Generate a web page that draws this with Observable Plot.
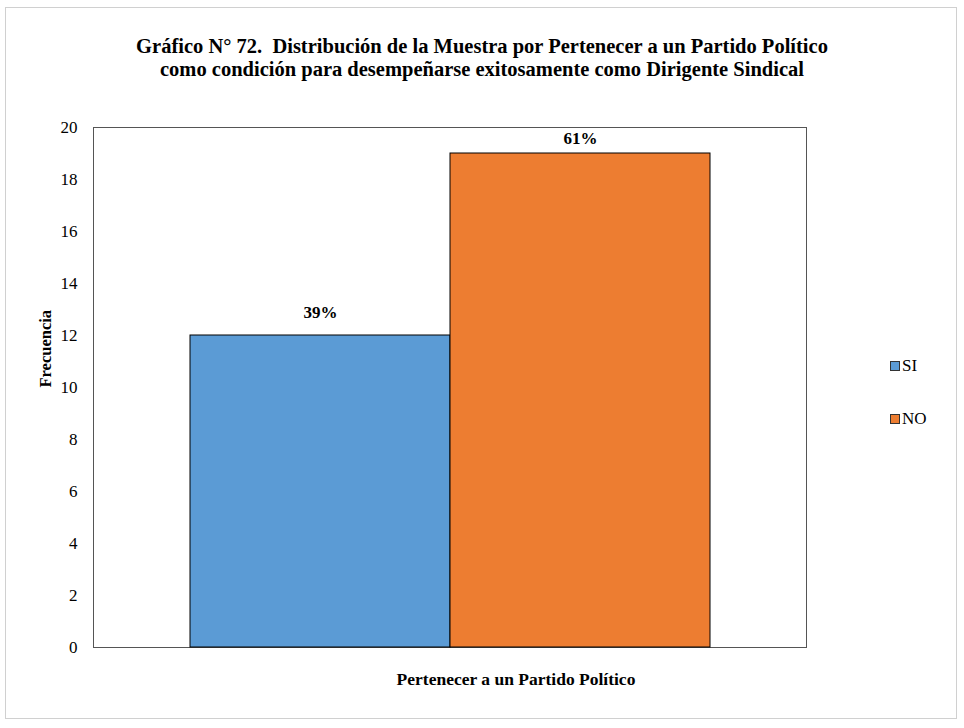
<!DOCTYPE html>
<html>
<head>
<meta charset="utf-8">
<script src="https://cdn.jsdelivr.net/npm/d3@7"></script>
<script src="https://cdn.jsdelivr.net/npm/@observablehq/plot@0.6"></script>
<style>
  html, body { margin: 0; padding: 0; background: #fff; }
  #wrap { position: relative; width: 964px; height: 728px; font-family: "Liberation Serif", "DejaVu Serif", serif; }
  #border { position: absolute; left: 5px; top: 7px; width: 952px; height: 712px; border: 1px solid #d0d0d0; box-sizing: border-box; }
  #title { position: absolute; left: 0; width: 964px; top: 35px; text-align: center; font-weight: bold; font-size: 20.5px; line-height: 23px; color: #000; }
  #chart { position: absolute; left: 0; top: 0; }
  .leg { position: absolute; left: 890px; font-size: 17px; line-height: 20px; color: #000; display: flex; align-items: center; }
  .sw { width: 8px; height: 8px; border: 1px solid #333; margin-right: 2px; }
</style>
</head>
<body>
<div id="wrap">
  <div id="border"></div>
  <div id="chart"></div>
  <div id="title">Gráfico N° 72.&nbsp; Distribución de la Muestra por Pertenecer a un Partido Político<br>como condición para desempeñarse exitosamente como Dirigente Sindical</div>
  <div id="legend"></div>
</div>
<script>
const categories = ["SI", "NO"];
const values = [12, 19];
const percentLabels = ["39%", "61%"];
const colors = ["#5B9BD5", "#ED7D31"];
const yTicks = [0, 2, 4, 6, 8, 10, 12, 14, 16, 18, 20];

const data = categories.map((c, i) => ({cat: c, value: values[i], label: percentLabels[i]}));

const FONT = "'Liberation Serif', 'DejaVu Serif', serif";
const plot = Plot.plot({
  width: 964,
  height: 728,
  marginLeft: 93,
  marginRight: 158,
  marginTop: 127,
  marginBottom: 81,
  style: {fontFamily: FONT, fontSize: "17px", background: "transparent", color: "#000"},
  x: {domain: categories, paddingInner: 0, paddingOuter: 0.366, axis: null},
  y: {domain: [0, 20], ticks: yTicks, axis: null},
  color: {domain: categories, range: colors},
  marks: [
    Plot.frame({stroke: "#555", strokeWidth: 1}),
    Plot.barY(data, {x: "cat", y: "value", fill: "cat", stroke: "#000", strokeWidth: 1}),
    Plot.text(data, {filter: d => d.cat === "SI", x: "cat", y: "value", text: "label", dy: -23, fontWeight: "bold", fontSize: 17, fontFamily: FONT}),
    Plot.text(data, {filter: d => d.cat === "NO", x: "cat", y: "value", text: "label", dy: -15, fontWeight: "bold", fontSize: 17, fontFamily: FONT}),
    Plot.axisY({ticks: yTicks, tickSize: 0, tickPadding: 16, label: null, fontSize: 17, fontFamily: FONT}),
    Plot.text(["Frecuencia"], {frameAnchor: "left", dx: -48, rotate: -90, fontWeight: "bold", fontSize: 16.5, fontFamily: FONT}),
    Plot.text(["Pertenecer a un Partido Político"], {frameAnchor: "bottom", dx: 66, dy: 37, fontWeight: "bold", fontSize: 17.5, fontFamily: FONT})
  ]
});
document.getElementById("chart").appendChild(plot);

const legend = document.getElementById("legend");
const legTops = [356, 409];
categories.forEach((c, i) => {
  const d = document.createElement("div");
  d.className = "leg";
  d.style.top = legTops[i] + "px";
  const s = document.createElement("div");
  s.className = "sw";
  s.style.background = colors[i];
  d.appendChild(s);
  d.appendChild(document.createTextNode(c));
  legend.appendChild(d);
});
</script>
</body>
</html>
